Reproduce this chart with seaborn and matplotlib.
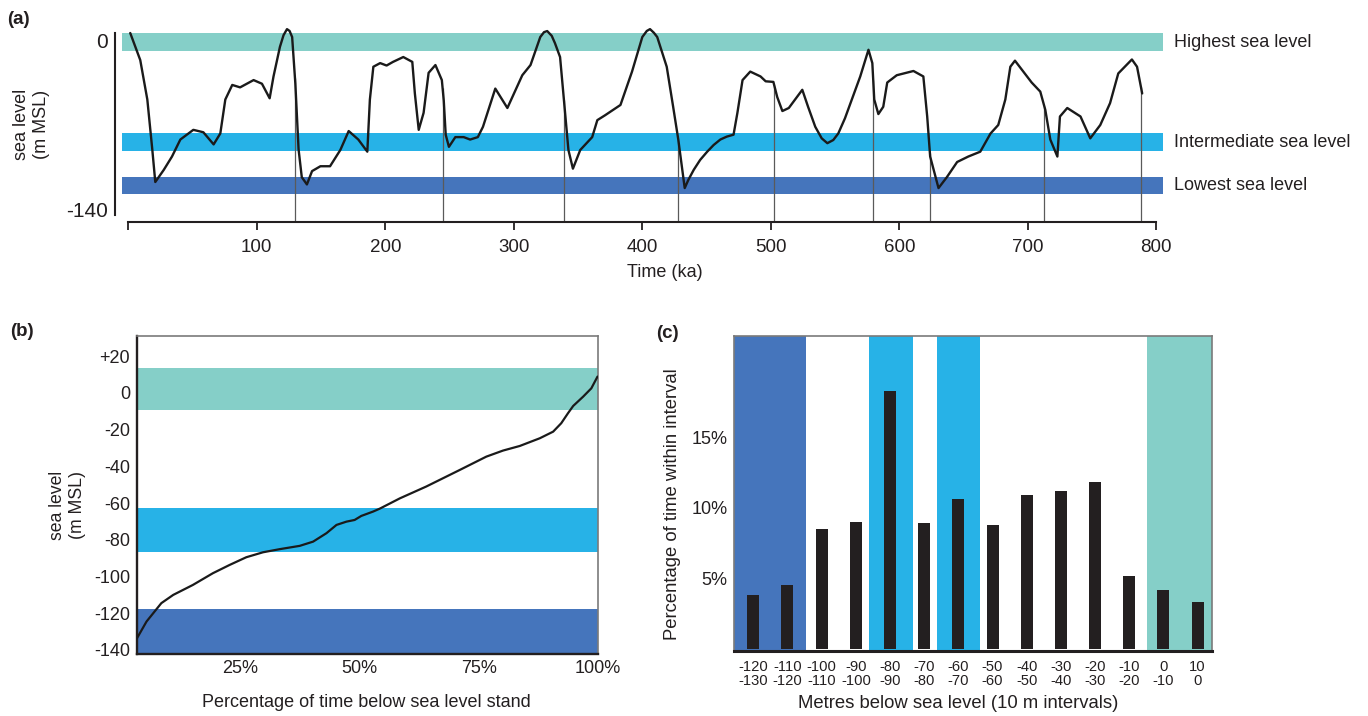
import numpy as np
import pandas as pd
import matplotlib
matplotlib.use("Agg")
import matplotlib.pyplot as plt
import matplotlib.transforms as mtransforms
from matplotlib import font_manager
import seaborn as sns

# ---------------- data ----------------
# (a) sea level curve over the last 800 ka
time_ka = [1.5, 9.3, 14.8, 18.7, 21, 27.6, 34, 40.5, 50.6, 58.4, 66.4, 71.6, 75.5, 80.9, 87,
           97.5, 104, 110, 113, 118, 120.8, 123.5, 125.5, 127.5, 130, 132.5, 135, 139, 143, 149.5, 157, 165,
           171.5, 179, 186, 188, 190.7, 196, 201, 206, 214, 221, 223, 226, 229.8, 233.7, 239,
           244, 245.5, 247, 249.5, 254.5, 261, 266, 272, 276, 285.6, 295, 306.6, 313, 320.6,
           323.5, 326, 329.5, 332, 336, 339, 342.5, 346, 351.7, 361, 365, 371, 383, 392, 400, 403.5, 406, 409, 411.6,
           419, 424, 428, 433, 435.8, 440, 445, 450.5, 455.5, 460.7, 465.7, 471, 474, 478, 484, 492, 496, 502, 505, 509,
           514, 524.5, 529, 534.6, 539.6, 544, 548.6, 552.5, 557.7, 562, 569.6, 576, 579, 580.5, 583.7, 587.5, 590.6, 598,
           611, 618.7, 621.7, 624, 630.5, 637, 645, 653.7, 663, 671, 677, 682.5, 686.4, 690,
           696.5, 703, 709.7, 713.6, 717.5, 723, 725, 730.7, 741, 748.6, 756.4, 764, 770.4,
           781, 785, 789]
sea_level_a = [5.8, -16.5, -49, -90.6, -117, -107, -96, -82, -74, -76, -86, -77, -49, -37, -39,
               -33, -36, -48, -30, -5.6, 4, 9, 7.5, 2.5, -36, -90, -113, -119, -108, -104, -104, -90.6,
               -75, -82, -92, -49, -22, -19, -21, -18, -14, -18, -44, -74, -60, -27, -20.6,
               -33, -50, -78, -88, -80, -80, -82, -80, -71.5, -40, -56, -29, -20.6, 2.5,
               6.5, 7.4, 3.5, -2.5, -14, -49, -90.6, -106, -90.6, -80, -66, -62, -53.5, -26, 2.5, 7.5, 9, 6, 2.5,
               -22, -55, -82, -122, -115.3, -107, -98.8, -92, -86.5, -82, -79.6, -78, -60, -33, -26, -30, -34, -34.5, -47, -58.5,
               -56, -41, -55, -71.5, -81, -85, -82.4, -77, -64.5, -52, -30, -8, -19, -49, -61, -55, -35, -29,
               -25.5, -30, -63, -96, -122, -113, -100.5, -96, -92, -77, -70, -49, -22, -17,
               -26, -35, -42.5, -57.5, -82, -96, -63, -56, -63, -81, -70, -52, -27.5,
               -16, -22, -44]
boundary_ka = [129.7, 244.6, 339, 428, 502.7, 579.7, 623.8, 712.8, 788]
a_xticks = [0, 100, 200, 300, 400, 500, 600, 700, 800]
a_xticklabels = ["", "100", "200", "300", "400", "500", "600", "700", "800"]
a_yticks = [0, -140]
a_yticklabels = ["0", "-140"]
band_names = ["Highest sea level", "Intermediate sea level", "Lowest sea level"]
bands_a = [(-9.1, 5.5), (-91.4, -76.9), (-126.9, -112.6)]

# (b) cumulative time below sea level stand
pct_below = [3.4, 5.4, 8.5, 11, 15.1, 19.3, 22.8, 26.3, 29.8, 33.3, 37.5, 40.3, 43.1, 45.2,
             47.3, 49, 50.4, 52.9, 54.3, 58.5, 64, 71, 76.6, 80.1, 83.6, 87.8, 90.6, 92.3,
             93.7, 94.8, 96.9, 98.6, 99.9]
sea_level_b = [-133.6, -124.5, -114.5, -110, -104.6, -98.2, -93.7, -89.5, -86.8, -85.1, -83.3,
               -81, -76.4, -71.9, -70.1, -69.2, -67, -64.6, -63, -57.4, -51, -42, -34.7,
               -31.4, -28.9, -24.7, -21.1, -16.5, -11.1, -7.1, -2, 2.5, 8.9]
b_xticks = [25, 50, 75, 100]
b_xticklabels = ["25%", "50%", "75%", "100%"]
b_yticks = [20, 0, -20, -40, -60, -80, -100, -120, -140]
b_yticklabels = ["+20", "0", "-20", "-40", "-60", "-80", "-100", "-120", "-140"]
bands_b = [(-9.3, 13.6), (-86.6, -62.6), (-142.2, -117.6)]

# (c) percentage of time within each 10 m interval
intervals = ["-120\n-130", "-110\n-120", "-100\n-110", "-90\n-100", "-80\n-90", "-70\n-80",
             "-60\n-70", "-50\n-60", "-40\n-50", "-30\n-40", "-20\n-30", "-10\n-20",
             "0\n-10", "10\n0"]
pct_time = [3.8, 4.5, 8.5, 9.0, 18.3, 8.9, 10.6, 8.8, 10.9, 11.2, 11.8, 5.2, 4.2, 3.3]
c_yticks = [5, 10, 15]
c_yticklabels = ["5%", "10%", "15%"]
# colored column spans (in category positions) and their colour index
bands_c = [(-0.556, 1.54, 2), (3.39, 4.66, 1), (5.37, 6.63, 1), (11.51, 13.43, 0)]

# ---------------- style ----------------
TEAL = "#85cfc8"
LIGHT = "#27b2e7"
DARK = "#4575bc"
band_colors = [TEAL, LIGHT, DARK]
INK = "#231f20"
GREY = "#7a7a7a"

sns.set_style("white")
plt.rcParams["font.family"] = ["Liberation Sans", "DejaVu Sans"]
plt.rcParams["text.color"] = INK
plt.rcParams["axes.labelcolor"] = INK
plt.rcParams["xtick.color"] = INK
plt.rcParams["ytick.color"] = INK

names = {f.name for f in font_manager.fontManager.ttflist}
if "Liberation Sans Narrow" in names:
    narrow_family, narrow_size = ["Liberation Sans Narrow", "Liberation Sans"], 11.5
else:
    narrow_family, narrow_size = ["Liberation Sans", "DejaVu Sans"], 10.6

W, H = 1368, 716
fig = plt.figure(figsize=(W / 100, H / 100), dpi=100)


def rect(l, t, r, b):
    return [l / W, 1 - b / H, (r - l) / W, (b - t) / H]


axA = fig.add_axes(rect(122.3, 25, 1163, 222.3))
axB = fig.add_axes(rect(137, 336, 598, 654))
axC = fig.add_axes(rect(734.3, 335.7, 1212.3, 651))

# ---------------- panel (a) ----------------
for (lo, hi), c in zip(bands_a, band_colors):
    axA.axhspan(lo, hi, color=c, lw=0, zorder=0)
df_a = pd.DataFrame({"t": time_ka, "sl": sea_level_a})
sns.lineplot(data=df_a, x="t", y="sl", ax=axA, color="#1a1a1a", lw=1.7,
             sort=False, estimator=None, zorder=3, solid_joinstyle="round",
             solid_capstyle="round")
tops = np.interp(boundary_ka, time_ka, sea_level_a)
axA.vlines(boundary_ka, ymin=-150.2, ymax=tops, color="#5a5a5a", lw=0.9, zorder=2)
axA.set_xlim(-4.67, 805.2)
axA.set_ylim(-150.2, 12.4)
for s in ["top", "right"]:
    axA.spines[s].set_visible(False)
axA.spines["left"].set_position(("outward", 5.3))
axA.spines["left"].set_bounds(-144.2, 5.5)
axA.spines["bottom"].set_bounds(0, 800)
for s in ["left", "bottom"]:
    axA.spines[s].set_color(INK)
    axA.spines[s].set_linewidth(1.5)
axA.set_xticks(a_xticks)
axA.set_xticklabels(a_xticklabels)
axA.set_yticks(a_yticks)
axA.set_yticklabels(a_yticklabels)
axA.tick_params(axis="x", bottom=True, direction="out", length=5.8, width=1.3,
                pad=6, labelsize=13.5, color=INK)
axA.tick_params(axis="y", left=True, length=0, pad=5, labelsize=15)
axA.set_xlabel("Time (ka)", fontsize=13)
axA.xaxis.set_label_coords(0.5215, -0.209)
axA.set_ylabel("sea level\n(m MSL)", fontsize=13)
axA.yaxis.set_label_coords(-0.0695, 0.498)
trA = mtransforms.blended_transform_factory(axA.transAxes, axA.transData)
for (lo, hi), name in zip(bands_a, band_names):
    axA.text(1.0106, (lo + hi) / 2, name, transform=trA, ha="left", va="center",
             fontsize=13, clip_on=False)

# ---------------- panel (b) ----------------
for (lo, hi), c in zip(bands_b, band_colors):
    axB.axhspan(lo, hi, color=c, lw=0, zorder=0)
df_b = pd.DataFrame({"pct": pct_below, "sl": sea_level_b})
sns.lineplot(data=df_b, x="pct", y="sl", ax=axB, color="#1a1a1a", lw=1.6,
             sort=False, estimator=None, zorder=3, solid_joinstyle="round")
axB.set_xlim(3.4, 100)
axB.set_ylim(-142.2, 31)
axB.set_xticks(b_xticks)
axB.set_xticklabels(b_xticklabels)
axB.set_yticks(b_yticks)
axB.set_yticklabels(b_yticklabels)
axB.tick_params(axis="both", length=0, labelsize=13)
axB.tick_params(axis="x", pad=4.5)
axB.tick_params(axis="y", pad=5)
for s in ["left", "bottom"]:
    axB.spines[s].set_color(INK)
    axB.spines[s].set_linewidth(1.7)
for s in ["top", "right"]:
    axB.spines[s].set_color(GREY)
    axB.spines[s].set_linewidth(1.2)
axB.set_xlabel("Percentage of time below sea level stand", fontsize=13)
axB.xaxis.set_label_coords(0.497, -0.126)
axB.set_ylabel("sea level\n(m MSL)", fontsize=12.7)
axB.yaxis.set_label_coords(-0.1106, 0.4686)

# ---------------- panel (c) ----------------
for lo, hi, ci in bands_c:
    axC.axvspan(lo, hi, color=band_colors[ci], lw=0, zorder=0)
df_c = pd.DataFrame({"interval": intervals, "pct": pct_time})
sns.barplot(data=df_c, x="interval", y="pct", order=intervals, ax=axC, color=INK,
            saturation=1, width=0.35, zorder=3, linewidth=0, edgecolor=INK)
axC.set_xlim(-0.556, 13.43)
axC.set_ylim(-0.15, 22.2)
axC.set_yticks(c_yticks)
axC.set_yticklabels(c_yticklabels)
axC.tick_params(axis="both", length=0)
axC.tick_params(axis="y", pad=5, labelsize=13)
axC.tick_params(axis="x", pad=6.5)
for lab in axC.get_xticklabels():
    lab.set_family(narrow_family)
    lab.set_fontsize(narrow_size)
    lab.set_linespacing(1.0)
axC.spines["bottom"].set_color(INK)
axC.spines["bottom"].set_linewidth(2.2)
for s in ["top", "right", "left"]:
    axC.spines[s].set_color(GREY)
    axC.spines[s].set_linewidth(1.2)
axC.set_xlabel("Metres below sea level (10 m intervals)", fontsize=13.3)
axC.xaxis.set_label_coords(0.468, -0.1396)
axC.set_ylabel("Percentage of time within interval", fontsize=13.3)
axC.yaxis.set_label_coords(-0.1115, 0.466)

# ---------------- panel letters ----------------
for x, y, t in [(7, 20, "(a)"), (10, 331, "(b)"), (656, 334, "(c)")]:
    fig.text(x / W, 1 - y / H, t, fontsize=13.5, fontweight="bold", ha="left", va="center")

fig.savefig("out.png", dpi=100)
